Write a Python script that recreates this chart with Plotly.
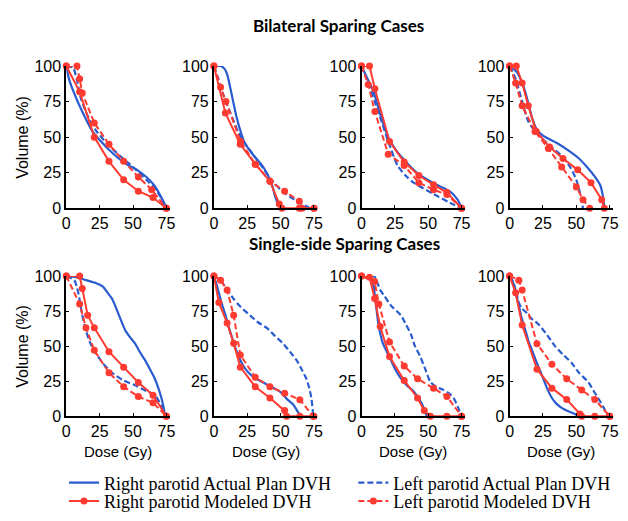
import plotly.graph_objects as go

# ---------------- data (dose in Gy, volume in %) ----------------
# Bilateral sparing cases
B1_RIGHT_ACTUAL = [(0,100),(2,91),(5,83),(9,74),(14,64),(19,55),(25,48),(35,38.5),(45,31),(53,27),(60,22),(66,16),(71,8),(75,0)]
B1_LEFT_ACTUAL = [(0,100),(5,99),(8,90),(11,77),(16,65),(22,55),(30,46),(40,37),(50,29),(60,20),(67,13),(72,6),(75,0)]
B1_RIGHT_MODEL = [(0,100),(10,82),(21,50),(32,33),(43,20),(54,12),(65,7.5),(75,0)]
B1_LEFT_MODEL = [(0,100),(8,100),(10,91),(12,81),(21,60),(32,45),(43,33),(54,22),(64,13),(75,0)]

B2_RIGHT_ACTUAL = [(0,100),(5,100),(8,98),(10,94),(12,86),(14,77),(17,64),(20,54),(23,46),(29,38),(37,29),(43,18),(46,8),(48,3),(50,0)]
B2_LEFT_ACTUAL = [(0,100),(3,92),(7,80),(12,68),(18,54),(23,46),(30,37),(37,28),(43,20),(50,13),(57,8),(64,4),(70,1),(72,0)]
B2_RIGHT_MODEL = [(0,100),(8.6,67),(19.7,45),(31,31),(42,19),(49,3),(51,0),(64,0),(75,0)]
B2_LEFT_MODEL = [(0,100),(5,85),(9,75),(20,47),(31,31),(42,19),(53,12),(64,5),(66,0),(75,0)]

B3_RIGHT_ACTUAL = [(0,100),(2,96),(4,92),(9,82),(14,66),(20,50),(25,42),(30,36),(42,24.5),(54,17.6),(66,12),(72,6),(75,0)]
B3_LEFT_ACTUAL = [(0,100),(5,88.6),(10,75),(15,61),(20,47),(27,30),(33,23),(39,18),(54,10),(66,4),(75,0)]
B3_RIGHT_MODEL = [(0,100),(6,100),(10,84),(21,47),(32,32.5),(43,23),(54,16.5),(64,11),(75,0)]
B3_LEFT_MODEL = [(0,100),(5,87),(10,68),(20,38),(32,30),(43,18),(54,13),(64,9.6),(75,0)]

B4_RIGHT_ACTUAL = [(0,100),(3,98),(6,95),(9,89),(12,81),(15,70),(17,63),(20,56),(25,51),(37,45),(45,40),(52,35),(58,29),(64,22),(68,16),(70,8),(71,0)]
B4_LEFT_ACTUAL = [(0,100),(4.5,91),(9.4,75),(14,61),(20,53),(30,44),(40,36),(46,28),(50,20),(52.7,11),(54,5),(55,0)]
B4_RIGHT_MODEL = [(0,100),(5,100),(9.4,88),(14,72),(20,54),(30,43),(40,35),(51,27),(61,18),(69,6),(71,0)]
B4_LEFT_MODEL = [(0,100),(4.5,88),(9.4,72),(19,54),(29,42),(39,29),(50,15),(55,6),(60,0)]

# Single-side sparing cases
S1_RIGHT_ACTUAL = [(0,100),(8,99),(15,97),(22,95),(27,92.7),(31,88),(34.4,83.6),(37,78),(39.3,72.4),(42,66),(44.3,61),(48,56),(51.6,51.7),(55,46),(59,40),(63,33),(66.4,26.7),(69,20),(71.3,13),(73,6),(74,0)]
S1_LEFT_ACTUAL = [(0,100),(6,97),(8,92),(9.8,84),(12,72),(14.75,61),(18,52),(22,45),(28,37),(34.4,31),(42,26),(51.6,22),(60,18),(66.4,15),(71,8),(75,0)]
S1_RIGHT_MODEL = [(0,100),(10,100),(12,91),(16,72),(21,63),(32,46),(43,35),(54,24),(65,15),(75,0)]
S1_LEFT_MODEL = [(0,100),(10,80),(14.75,63),(21,47),(32,31),(43,21),(54,14),(65,9.6),(75,0)]

S2_RIGHT_ACTUAL = [(0,100),(2,94),(3.7,88),(6,80),(8.7,72),(11,64),(13.6,56),(16,49),(18.6,42.6),(22,36),(26,31),(31,27),(37,24),(43,21),(49.5,17.5),(55,12),(59.4,8.4),(63,3),(65.6,0)]
S2_LEFT_ACTUAL = [(0,100),(5,97),(10,90),(14.8,83.6),(20,78),(27,72),(33,67),(39.6,63),(46,57),(52,51.7),(57,46),(61.9,40),(66,33),(69.3,26.7),(71.5,20),(73,13),(74,5),(74.3,0)]
S2_RIGHT_MODEL = [(0,100),(3.7,81),(9.9,66.5),(14.8,52),(19.8,35),(31,21),(42,13),(53,4),(54.5,0),(64.4,0),(75,0)]
S2_LEFT_MODEL = [(0,100),(5,97),(9.9,90),(14.8,72),(19.8,43.7),(31,27.8),(42,21),(53,16.4),(64.4,11.8),(74.3,0)]

S3_RIGHT_ACTUAL = [(0,100),(5,100),(7.4,99),(9,93),(9.8,88),(11,78),(12.3,68),(14,59),(16,52),(19,46),(22,40),(25.5,33),(29.5,27),(34,22),(39.3,17.5),(42.5,13),(45.5,8.4),(47.5,3),(49,0)]
S3_LEFT_ACTUAL = [(0,100),(9.8,99.5),(12,95),(14,90),(17,86),(22,79),(29.5,72),(33,66),(37,58.5),(40,50),(44,42.6),(48,33),(51.6,24.4),(56,21),(61.5,18.7),(66,16),(69,13),(72,7),(75,0)]
S3_RIGHT_MODEL = [(0,100),(6,99),(9.8,84),(14,64),(21,42.6),(32,25.5),(42,13),(47,4),(51.6,0),(64,0),(75,0)]
S3_LEFT_MODEL = [(0,100),(9.8,96),(13,80),(21,53),(32,35.8),(42,26.7),(54,20),(64,14),(75,0)]

S4_RIGHT_ACTUAL = [(0,100),(2,97),(3.2,93),(5,86),(6.9,79),(9,70),(11.9,61),(14,54),(16.8,47),(20,39),(24.3,29),(28,20),(31.7,13),(35,9),(39,6),(44,3.5),(49,1.6),(51.5,0)]
S4_LEFT_ACTUAL = [(0,100),(3,95),(5,88),(6.9,81),(9,77),(11.9,74.5),(16,70),(21.8,65.4),(28,58),(34,50),(40,44),(46.5,38),(52,31),(58.9,24.4),(63,18),(66.3,13),(70,7),(73.8,0)]
S4_RIGHT_MODEL = [(0,100),(4.5,88),(9.4,65),(20.5,33.5),(31.7,20),(42.8,12),(52.7,1.6),(54,0),(63.8,0),(75,0)]
S4_LEFT_MODEL = [(0,100),(6.9,97),(9.4,90),(20.5,51.7),(31.7,37),(42.8,26.7),(54,18.7),(63.8,12),(75,0)]

PANELS = [
    (B1_RIGHT_ACTUAL, B1_LEFT_ACTUAL, B1_RIGHT_MODEL, B1_LEFT_MODEL),
    (B2_RIGHT_ACTUAL, B2_LEFT_ACTUAL, B2_RIGHT_MODEL, B2_LEFT_MODEL),
    (B3_RIGHT_ACTUAL, B3_LEFT_ACTUAL, B3_RIGHT_MODEL, B3_LEFT_MODEL),
    (B4_RIGHT_ACTUAL, B4_LEFT_ACTUAL, B4_RIGHT_MODEL, B4_LEFT_MODEL),
    (S1_RIGHT_ACTUAL, S1_LEFT_ACTUAL, S1_RIGHT_MODEL, S1_LEFT_MODEL),
    (S2_RIGHT_ACTUAL, S2_LEFT_ACTUAL, S2_RIGHT_MODEL, S2_LEFT_MODEL),
    (S3_RIGHT_ACTUAL, S3_LEFT_ACTUAL, S3_RIGHT_MODEL, S3_LEFT_MODEL),
    (S4_RIGHT_ACTUAL, S4_LEFT_ACTUAL, S4_RIGHT_MODEL, S4_LEFT_MODEL),
]
SERIES_NAMES = ["Right parotid Actual Plan DVH", "Left parotid Actual Plan DVH",
                "Right parotid Modeled DVH", "Left parotid Modeled DVH"]
X_TICKS = [0, 25, 50, 75]
Y_TICKS = [0, 25, 50, 75, 100]
ROW_TITLES = ["Bilateral Sparing Cases", "Single-side Sparing Cases"]

# ---------------- styling / layout ----------------
W, H = 628, 521
BLUE = "#2a5ccf"
RED = "#ff3a30"
COL_LEFT = [63.3, 213.3, 363.3, 513.8]
PX_PER_GY = 1.356
X_MAX = 77.5
ROW_BOTTOM = [207, 422]
ROW_TOP = [60, 277]
SANS = "Liberation Sans"

styles = [
    dict(line=dict(color=BLUE, width=2.2), mode="lines"),
    dict(line=dict(color=BLUE, width=2.2, dash="6px,3px"), mode="lines"),
    dict(line=dict(color=RED, width=2), mode="lines+markers",
         marker=dict(symbol="circle", size=7, color=RED)),
    dict(line=dict(color=RED, width=2, dash="6px,3px"), mode="lines+markers",
         marker=dict(symbol="circle", size=7, color=RED)),
]
# one legend per entry: (name, x px of legend box, y px of row centre)
LEGEND_POS = [("legend", 61, 491), ("legend2", 355, 491), ("legend3", 61, 510), ("legend4", 355, 510)]

fig = go.Figure()
layout = dict(width=W, height=H, margin=dict(l=0, r=0, t=0, b=0),
              paper_bgcolor="white", plot_bgcolor="white",
              font=dict(family=SANS, size=16, color="black"))

annotations = []
for k, series in enumerate(PANELS):
    row, col = divmod(k, 4)
    ax = "" if k == 0 else str(k + 1)
    x0 = COL_LEFT[col] / W
    x1 = (COL_LEFT[col] + X_MAX * PX_PER_GY) / W
    y0 = 1 - ROW_BOTTOM[row] / H
    y1 = 1 - ROW_TOP[row] / H
    for s_idx, pts in enumerate(series):
        st = styles[s_idx]
        tr = dict(x=[p[0] for p in pts], y=[p[1] for p in pts],
                  name=SERIES_NAMES[s_idx], mode=st["mode"], line=st["line"],
                  xaxis="x" + ax, yaxis="y" + ax, cliponaxis=False,
                  legend=LEGEND_POS[s_idx][0], showlegend=(k == 0))
        if "marker" in st:
            tr["marker"] = st["marker"]
        if s_idx in (0, 1):
            tr["line"] = dict(st["line"], shape="spline", smoothing=0.6)
        fig.add_trace(go.Scatter(**tr))
    axis_common = dict(ticks="inside", ticklen=3, tickcolor="black", showline=True,
                       linecolor="black", linewidth=2, showgrid=False, zeroline=False,
                       tickfont=dict(family=SANS, size=16))
    layout["xaxis" + ax] = dict(domain=[x0, x1], range=[0, X_MAX], anchor="y" + ax,
                                tickvals=X_TICKS, **axis_common)
    layout["yaxis" + ax] = dict(domain=[y0, y1], range=[0, 100], anchor="x" + ax,
                                tickvals=Y_TICKS, **axis_common)
    if col == 0:
        annotations.append(dict(text="Volume (%)", textangle=-90, xref="paper", yref="paper",
                                x=18 / W, y=(y0 + y1) / 2, showarrow=False,
                                font=dict(family=SANS, size=16), xanchor="center", yanchor="middle"))
    if row == 1:
        annotations.append(dict(text="Dose (Gy)", xref="paper", yref="paper",
                                x=(x0 + x1) / 2, y=1 - 458 / H, showarrow=False,
                                font=dict(family=SANS, size=15), xanchor="center", yanchor="middle"))

annotations.append(dict(text="<b>" + ROW_TITLES[0] + "</b>", xref="paper", yref="paper",
                        x=340 / W, y=1 - 18 / H, showarrow=False,
                        font=dict(family="Lato", size=17), xanchor="center", yanchor="middle"))
annotations.append(dict(text="<b>" + ROW_TITLES[1] + "</b>", xref="paper", yref="paper",
                        x=346 / W, y=1 - 243 / H, showarrow=False,
                        font=dict(family="Lato", size=17), xanchor="center", yanchor="middle"))
layout["annotations"] = annotations

legend_font = dict(family="Liberation Serif", size=18, color="black")
for name, lx, ly in LEGEND_POS:
    layout[name] = dict(x=lx / W, y=1 - ly / H, xanchor="left", yanchor="middle",
                        font=legend_font, bgcolor="rgba(0,0,0,0)", itemwidth=30,
                        tracegroupgap=0)
fig.update_layout(**layout)
fig.write_html("out.html", config={"displayModeBar": False},
               post_script="document.body.style.margin='0';document.body.style.overflow='hidden';")
